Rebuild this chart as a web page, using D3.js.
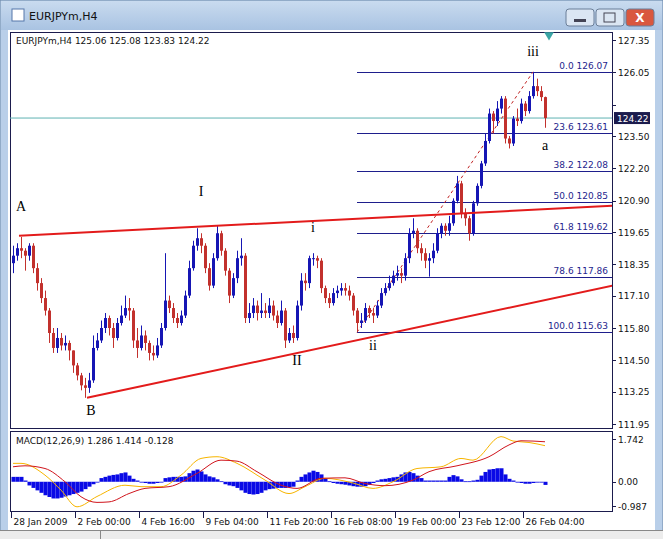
<!DOCTYPE html>
<html>
<head>
<meta charset="utf-8">
<script src="https://cdn.jsdelivr.net/npm/d3@7"></script>
<style>
  body { margin: 0; background: #fff; }
  text { font-family: "DejaVu Sans", sans-serif; }
</style>
</head>
<body>
<div id="chart"></div>
<script>
// EURJPYm H4 candles, bar 0 = 28 Jan 2009 (opens = previous close)
const firstOpen = 118.4;
const closes = [118.7,119.0,118.9,118.7,119.1,118.2,117.6,117.0,116.5,115.6,115.0,115.4,115.1,115.2,114.9,114.3,113.9,113.5,113.4,113.7,
  115.0,115.3,115.8,116.2,115.8,115.4,116.0,116.3,116.6,116.5,115.3,115.0,115.5,115.2,114.8,114.7,115.1,115.8,116.9,116.6,
  116.2,116.0,116.3,117.1,118.2,119.1,119.4,119.1,118.2,117.5,118.6,119.6,118.9,118.1,117.1,117.8,118.6,118.7,116.2,116.4,
  116.7,116.4,116.5,116.4,116.7,116.3,116.0,116.5,115.3,115.6,115.4,116.7,117.7,117.6,118.6,118.6,118.5,117.4,117.0,116.8,
  117.2,117.3,117.4,117.3,117.1,116.5,116.0,116.1,116.6,116.4,116.3,116.7,117.2,117.4,117.6,117.9,118.0,117.9,118.6,119.6,
  119.7,119.0,118.8,118.5,118.6,118.9,119.6,119.9,119.7,120.0,120.9,121.6,120.4,120.2,119.6,120.8,121.5,122.4,123.3,124.4,
  124.1,124.6,125.0,123.4,123.2,124.2,124.1,124.8,124.5,125.1,125.5,125.3,125.06,124.22];
const highs = [119.1,119.2,119.45,119.0,119.2,119.2,118.4,117.8,117.3,116.6,115.8,115.8,115.6,115.5,115.3,114.9,114.4,114.0,113.8,114.0,
  115.5,115.6,116.1,116.4,116.3,116.0,116.2,116.7,117.1,117.0,116.6,115.8,115.9,115.7,115.3,115.1,115.4,116.0,118.8,117.1,
  116.8,116.4,116.5,117.3,118.5,119.3,119.8,119.6,119.2,118.4,118.8,119.9,119.7,119.0,118.2,118.0,118.9,119.4,118.8,116.8,
  117.0,116.9,117.2,116.8,117.0,116.9,116.5,116.9,116.6,115.8,115.9,116.9,118.0,118.0,118.7,118.8,118.7,118.6,117.5,117.2,
  117.4,117.5,117.6,117.6,117.5,117.2,116.6,116.4,116.8,116.7,116.6,116.9,117.4,117.6,117.9,118.1,118.3,118.2,118.8,119.8,
  120.2,119.8,119.2,119.0,118.8,119.2,119.8,120.0,120.0,120.3,121.0,121.9,121.7,120.6,120.3,120.9,121.6,122.5,123.6,124.6,
  124.5,124.9,125.1,125.1,123.5,124.3,124.6,125.0,124.9,125.3,126.07,125.8,125.5,125.08];
const lows = [118.0,118.5,118.6,118.1,118.5,118.0,117.3,116.8,116.3,115.2,114.8,114.8,114.9,114.9,114.5,114.0,113.7,113.3,113.0,113.2,
  113.6,114.9,115.2,115.6,115.5,115.0,115.3,115.9,116.2,116.1,115.0,114.6,114.9,114.9,114.5,114.5,114.6,115.0,115.7,116.4,
  116.0,115.8,115.9,116.2,117.0,118.1,118.9,118.8,118.0,117.3,117.4,118.5,118.7,117.9,116.8,117.0,117.6,118.3,116.0,116.0,
  116.2,116.1,116.2,116.2,116.2,116.1,115.8,115.9,115.0,115.2,115.2,115.3,116.5,117.3,117.4,118.3,118.2,117.2,116.8,116.6,
  116.7,117.0,117.1,117.1,116.9,116.3,115.63,115.8,116.0,116.2,116.0,116.2,116.6,117.1,117.3,117.5,117.7,117.6,117.7,118.4,
  119.4,118.8,118.5,118.2,117.86,118.4,118.8,119.4,119.5,119.5,119.9,120.8,120.2,119.9,119.3,119.5,120.7,121.4,122.3,123.2,
  123.6,123.9,124.4,123.2,123.0,123.1,123.9,124.0,124.3,124.4,125.0,125.1,124.9,123.83];

const priceTicks = [127.35,126.05,124.75,123.50,122.20,120.90,119.65,118.35,117.10,115.80,114.50,113.25,111.95];
const dateLabels = [[0,'28 Jan 2009'],[16,'2 Feb 00:00'],[32,'4 Feb 16:00'],[48,'9 Feb 04:00'],[64,'11 Feb 20:00'],
  [80,'16 Feb 08:00'],[96,'19 Feb 00:00'],[112,'23 Feb 12:00'],[128,'26 Feb 04:00']];

const fibLevels = [[0.0,126.07],[23.6,123.61],[38.2,122.08],[50.0,120.85],[61.8,119.62],[78.6,117.86],[100.0,115.63]];
const fibStartBar = 86;
const fibTopBar = 130;
const upperTrend = [[1.5,119.5],[150,120.7]];
const lowerTrend = [[18.5,113.0],[150,117.5]];
const waveLabels = [['A',2,120.5],['B',19.5,112.3],['I',47,121.1],['II',71,114.3],['i',75,119.65],['ii',90,114.9],['iii',130,126.7],['a',133,122.95]];

// MACD(12,26,9): blue histogram, yellow and red lines
const macdHist = [0.2,0.2,0.2,0.05,-0.15,-0.25,-0.35,-0.45,-0.55,-0.62,-0.68,-0.68,-0.65,-0.6,-0.55,-0.5,-0.45,-0.4,-0.3,-0.2,
  -0.1,0,0.15,0.2,0.25,0.28,0.3,0.35,0.38,0.25,0.12,0.05,0,-0.05,-0.08,-0.08,-0.05,0,0.15,0.18,
  0.2,0.2,0.2,0.22,0.35,0.45,0.5,0.42,0.3,0.22,0.18,0.1,0.02,-0.1,-0.15,-0.18,-0.25,-0.35,-0.45,-0.5,
  -0.52,-0.5,-0.45,-0.35,-0.3,-0.28,-0.25,-0.25,-0.25,-0.22,-0.2,0.05,0.2,0.3,0.38,0.45,0.4,0.3,0.15,0.02,
  -0.05,-0.08,-0.1,-0.12,-0.15,-0.18,-0.2,-0.2,-0.18,-0.12,-0.05,0.05,0.1,0.12,0.15,0.18,0.2,0.3,0.38,0.4,
  0.35,0.25,0.15,0.05,0.05,0.05,0.05,0.05,0.05,0.2,0.27,0.22,0.1,0.02,0.02,0.05,0.08,0.25,0.4,0.5,
  0.52,0.55,0.55,0.3,0.12,0.05,0,-0.05,-0.08,-0.08,-0.05,-0.03,-0.03,-0.128];
const macdYellow = [[0,0.75],[2,0.75],[8,0.27],[12,-0.34],[16,-1.02],[21,-0.6],[28,-0.14],[32,-0.2],[37,-0.2],[42,0.27],
  [47,0.95],[51,1.02],[56,0.75],[63,0.07],[69,-0.48],[73,-0.2],[78,0.14],[85,-0.05],[90,-0.27],[95,0.0],[101,0.54],
  [107,0.61],[112,0.95],[115,0.88],[122,1.84],[125,1.66],[129,1.6],[133,1.47]];
const macdRed = [[0,0.61],[3,0.65],[8,0.54],[13,0],[17,-0.61],[21,-0.84],[24,-0.82],[29,-0.48],[33,-0.27],[39,-0.2],
  [46,0.34],[52,0.88],[56,0.84],[61,0.41],[67,-0.14],[71,-0.27],[77,0.14],[83,0.16],[88,-0.07],[93,-0.16],[100,0.07],
  [104,0.41],[111,0.65],[119,1.02],[124,1.5],[127,1.67],[133,1.63]];

const W = 663, H = 539;
const svg = d3.select('#chart').append('svg').attr('width', W).attr('height', H);

// window chrome
const grad = svg.append('defs').append('linearGradient').attr('id', 'tb').attr('x1', 0).attr('x2', 0).attr('y1', 0).attr('y2', 1);
grad.append('stop').attr('offset', 0).attr('stop-color', '#c9dbef');
grad.append('stop').attr('offset', 1).attr('stop-color', '#a9c3e2');
svg.append('rect').attr('width', W).attr('height', H).attr('fill', '#b9cfe9').attr('stroke', '#6b87a8');
svg.append('rect').attr('x', 1).attr('y', 1).attr('width', W - 2).attr('height', 29).attr('fill', 'url(#tb)');
svg.append('rect').attr('x', 12).attr('y', 9).attr('width', 12).attr('height', 12).attr('fill', '#fff').attr('stroke', '#5577aa');
svg.append('text').attr('x', 29).attr('y', 20).attr('font-size', 11).attr('fill', '#111').text('EURJPYm,H4');
[[566, '#dbe6f3'], [596, '#dbe6f3'], [626, '#d9573e']].forEach(([x, c]) => {
  svg.append('rect').attr('x', x).attr('y', 9).attr('width', 28).attr('height', 17).attr('rx', 3)
    .attr('fill', c).attr('stroke', '#6b7f99');
});
svg.append('text').attr('x', 640).attr('y', 22).attr('text-anchor', 'middle').attr('font-size', 12)
  .attr('font-weight', 'bold').attr('fill', '#fff').text('X');
svg.append('rect').attr('x', 574).attr('y', 19).attr('width', 12).attr('height', 3).attr('fill', '#445');
svg.append('rect').attr('x', 604).attr('y', 13).attr('width', 11).attr('height', 9).attr('fill', 'none').attr('stroke', '#445');
svg.append('rect').attr('x', 8).attr('y', 30).attr('width', W - 16).attr('height', 500).attr('fill', '#fff');
svg.append('rect').attr('x', 0).attr('y', 530).attr('width', W).attr('height', 9).attr('fill', '#ececec');
svg.append('line').attr('x1', 0).attr('x2', W).attr('y1', 530.5).attr('y2', 530.5).attr('stroke', '#888');
svg.append('line').attr('x1', 100.5).attr('x2', 100.5).attr('y1', 531).attr('y2', 539).attr('stroke', '#888');

// scales
const x = d3.scaleLinear().domain([0, 1]).range([13, 17]);
const y = d3.scaleLinear().domain([111.95, 127.35]).range([424, 40]);
const ym = d3.scaleLinear().domain([-0.987, 1.742]).range([506, 439]);

const left = 10, right = 612;
svg.append('rect').attr('x', left + 0.5).attr('y', 32.5).attr('width', right - left).attr('height', 396)
  .attr('fill', '#fff').attr('stroke', '#1b1b4d');
svg.append('rect').attr('x', left + 0.5).attr('y', 431.5).attr('width', right - left).attr('height', 80)
  .attr('fill', '#fff').attr('stroke', '#1b1b4d');

const main = svg.append('g');
main.append('clipPath').attr('id', 'clipMain').append('rect').attr('x', left + 1).attr('y', 33).attr('width', right - left - 1).attr('height', 395);

// current price line
main.append('line').attr('x1', left).attr('x2', right).attr('y1', y(124.22)).attr('y2', y(124.22))
  .attr('stroke', '#5fb3b3').attr('stroke-width', 1);

// fibonacci
const fib = main.append('g');
fibLevels.forEach(([lvl, p]) => {
  fib.append('line').attr('x1', x(fibStartBar)).attr('x2', right).attr('y1', Math.round(y(p)) + 0.5).attr('y2', Math.round(y(p)) + 0.5)
    .attr('stroke', '#1e1e8c').attr('stroke-width', 1);
  fib.append('text').attr('x', right - 4).attr('y', y(p) - 3).attr('text-anchor', 'end').attr('font-size', 9)
    .attr('fill', '#1e1e8c').text(`${lvl.toFixed(1)} ${p.toFixed(2)}`);
});
fib.append('line').attr('x1', x(fibStartBar)).attr('y1', y(115.63)).attr('x2', x(fibTopBar)).attr('y2', y(126.07))
  .attr('stroke', '#c02020').attr('stroke-dasharray', '3,3').attr('stroke-width', 1);

// candles
const candles = main.append('g');
closes.forEach((c, i) => {
  const o = i === 0 ? firstOpen : closes[i - 1];
  const col = c >= o ? '#1616b4' : '#c2312d';
  const cx = Math.round(x(i)) + 0.5;
  candles.append('line').attr('x1', cx).attr('x2', cx).attr('y1', y(highs[i])).attr('y2', y(lows[i])).attr('stroke', col);
  const top = y(Math.max(o, c)), bot = y(Math.min(o, c));
  candles.append('rect').attr('x', cx - 1.5).attr('width', 3).attr('y', top).attr('height', Math.max(1, bot - top)).attr('fill', col);
});

// trend lines
const trend = d3.line().x((d) => x(d[0])).y((d) => y(d[1]));
[upperTrend, lowerTrend].forEach((t) => {
  main.append('path').attr('d', trend(t)).attr('clip-path', 'url(#clipMain)')
    .attr('stroke', '#e31b1b').attr('stroke-width', 2).attr('fill', 'none');
});

// wave labels
waveLabels.forEach(([t, b, p]) => {
  main.append('text').attr('x', x(b)).attr('y', y(p)).attr('text-anchor', 'middle')
    .style('font-family', '"Liberation Serif", "DejaVu Serif", serif').attr('font-size', 14).attr('fill', '#000').text(t);
});

// shift marker
svg.append('path').attr('d', d3.symbol(d3.symbolTriangle, 40)()).attr('transform', `translate(${x(134)},35) rotate(180)`)
  .attr('fill', '#3aa5a5');

main.append('text').attr('x', 16).attr('y', 44).attr('font-size', 9).attr('fill', '#111')
  .text('EURJPYm,H4  125.06 125.08 123.83 124.22');

// price axis
priceTicks.forEach((p) => {
  svg.append('line').attr('x1', right).attr('x2', right + 4).attr('y1', Math.round(y(p)) + 0.5).attr('y2', Math.round(y(p)) + 0.5).attr('stroke', '#1b1b4d');
  if (p !== 124.75) {
    svg.append('text').attr('x', right + 6).attr('y', y(p) + 3.5).attr('font-size', 9).attr('fill', '#111').text(p.toFixed(2));
  }
});
svg.append('rect').attr('x', right + 2).attr('y', y(124.22) - 6).attr('width', 36).attr('height', 12).attr('fill', '#1b1b4d');
svg.append('text').attr('x', right + 5).attr('y', y(124.22) + 3.5).attr('font-size', 9).attr('fill', '#fff').text('124.22');

// MACD panel
const macd = svg.append('g');
macdHist.forEach((v, i) => {
  macd.append('rect').attr('x', Math.round(x(i)) - 1.5).attr('width', 4)
    .attr('y', Math.min(ym(v), ym(0))).attr('height', Math.max(0.8, Math.abs(ym(v) - ym(0)))).attr('fill', '#0a0ae6');
});
const mline = d3.line().x((d) => x(d[0])).y((d) => ym(d[1])).curve(d3.curveMonotoneX);
macd.append('path').attr('d', mline(macdYellow)).attr('fill', 'none').attr('stroke', '#f7b500').attr('stroke-width', 1);
macd.append('path').attr('d', mline(macdRed)).attr('fill', 'none').attr('stroke', '#d0141c').attr('stroke-width', 1);
macd.append('text').attr('x', 16).attr('y', 444).attr('font-size', 9).attr('fill', '#111').text('MACD(12,26,9) 1.286 1.414 -0.128');
[1.742, 0, -0.987].forEach((v) => {
  svg.append('line').attr('x1', right).attr('x2', right + 4).attr('y1', Math.round(ym(v)) + 0.5).attr('y2', Math.round(ym(v)) + 0.5).attr('stroke', '#1b1b4d');
  svg.append('text').attr('x', right + 6).attr('y', ym(v) + 3.5).attr('font-size', 9).attr('fill', '#111').text(v.toFixed(v === 0 ? 2 : 3));
});

// time axis
dateLabels.forEach(([b, t]) => {
  const bx = Math.round(x(b)) - 1.5;
  svg.append('line').attr('x1', bx).attr('x2', bx).attr('y1', 512).attr('y2', 518).attr('stroke', '#1b1b4d');
  svg.append('text').attr('x', bx + 2).attr('y', 525).attr('font-size', 9).attr('fill', '#111').text(t);
});
</script>
</body>
</html>
